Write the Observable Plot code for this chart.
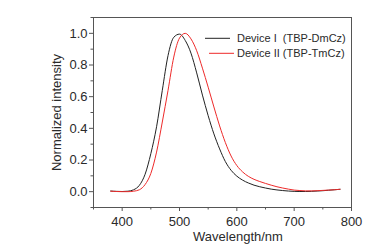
<!DOCTYPE html>
<html>
<head>
<meta charset="utf-8">
<script src="https://cdn.jsdelivr.net/npm/d3@7"></script>
<script src="https://cdn.jsdelivr.net/npm/@observablehq/plot@0.6"></script>
<style>
  html, body { margin: 0; padding: 0; background: white; }
  #chart svg { display: block; }
</style>
</head>
<body>
<div id="chart"></div>
<script>
const wavelengths = [380,390,400,410,420,430,440,450,460,470,480,490,500,510,520,530,540,550,560,570,580,590,600,610,620,630,640,650,660,670,680,690,700,710,720,730,740,750,760,770,780];
const deviceI = [0.004,0.002,0.001,0.003,0.012,0.04,0.11,0.24,0.41,0.64,0.86,0.975,0.995,0.955,0.875,0.75,0.61,0.48,0.365,0.27,0.19,0.135,0.098,0.073,0.055,0.041,0.031,0.023,0.016,0.011,0.007,0.004,0.002,0.001,0.001,0.002,0.004,0.006,0.009,0.012,0.015];
const deviceII = [0.003,0.001,0.0,0.0,0.003,0.012,0.045,0.115,0.25,0.44,0.64,0.85,0.97,1.0,0.965,0.89,0.78,0.66,0.535,0.415,0.31,0.225,0.165,0.125,0.097,0.078,0.064,0.052,0.041,0.031,0.023,0.016,0.01,0.007,0.005,0.005,0.006,0.008,0.01,0.012,0.015];
const seriesNames = ["Device I  (TBP-DmCz)", "Device II (TBP-TmCz)"];
const seriesColors = ["#222222", "#ee2a2a"];
const xTicks = [400, 500, 600, 700, 800];
const xMinor = [350, 450, 550, 650, 750];
const yTicks = [0.0, 0.2, 0.4, 0.6, 0.8, 1.0];
const yMinor = [-0.1, 0.1, 0.3, 0.5, 0.7, 0.9, 1.1];
const xTitle = "Wavelength/nm";
const yTitle = "Normalized intensity";

const data = [];
wavelengths.forEach((w, i) => {
  data.push({wl: w, v: deviceI[i], s: seriesNames[0]});
});
wavelengths.forEach((w, i) => {
  data.push({wl: w, v: deviceII[i], s: seriesNames[1]});
});

const axisColor = "#555";
const textColor = "#2a2a2a";

const plot = Plot.plot({
  width: 391,
  height: 251,
  marginLeft: 93,
  marginRight: 40,
  marginTop: 17,
  marginBottom: 44,
  style: {fontFamily: "'Liberation Sans', Arial, sans-serif", fontSize: "13px", background: "white", color: textColor},
  x: {domain: [350, 800]},
  y: {domain: [-0.1, 1.1]},
  color: {domain: seriesNames, range: seriesColors},
  marks: [
    Plot.axisX(xTicks, {tickSize: 4, tickPadding: 5, label: null, stroke: axisColor, fill: textColor, fontSize: 13}),
    Plot.axisX(xMinor, {tickSize: 2.5, tickFormat: () => "", label: null, stroke: axisColor}),
    Plot.axisY(yTicks, {tickSize: 4, tickPadding: 2, tickFormat: d3.format(".1f"), label: null, stroke: axisColor, fill: textColor, fontSize: 13}),
    Plot.axisY(yMinor, {tickSize: 2.5, tickFormat: () => "", label: null, stroke: axisColor}),
    Plot.line(data, {x: "wl", y: "v", z: "s", stroke: "s", strokeWidth: 1, curve: "monotone-x"}),
    Plot.frame({stroke: axisColor, strokeWidth: 1}),
    Plot.text([xTitle], {text: d => d, frameAnchor: "bottom", textAnchor: "middle", dx: 15.5, dy: 33, fontSize: 13, fill: textColor}),
    Plot.text([yTitle], {text: d => d, frameAnchor: "left", textAnchor: "middle", rotate: -90, dx: -37, fontSize: 13, fill: textColor})
  ]
});

document.getElementById("chart").appendChild(plot);

// Legend inside the frame (top-right)
const svg = d3.select(plot);
const legend = svg.append("g")
  .attr("font-family", "'Liberation Sans', Arial, sans-serif")
  .attr("font-size", "11px")
  .attr("text-anchor", "start");
const legendRows = [
  {x1: 205, x2: 230, y: 38.3},
  {x1: 209, x2: 234, y: 53.3}
];
seriesNames.forEach((name, i) => {
  const r = legendRows[i];
  legend.append("line")
    .attr("x1", r.x1).attr("x2", r.x2).attr("y1", r.y).attr("y2", r.y)
    .attr("stroke", seriesColors[i]).attr("stroke-width", 1);
  legend.append("text")
    .attr("x", 237).attr("y", r.y).attr("dy", "0.35em")
    .attr("text-anchor", "start")
    .attr("fill", textColor)
    .style("white-space", "pre")
    .text(name);
});
</script>
</body>
</html>
